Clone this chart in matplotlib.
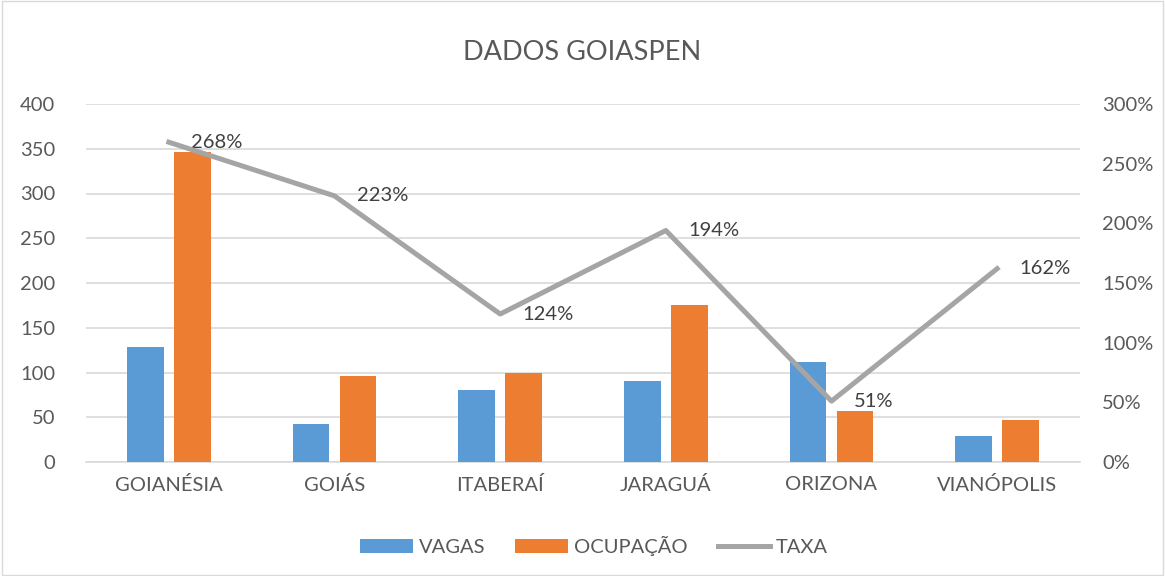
import matplotlib.pyplot as plt
import numpy as np
from matplotlib.ticker import FuncFormatter

# Data
cidades = ['GOIANÉSIA', 'GOIÁS', 'ITABERAÍ', 'JARAGUÁ', 'ORIZONA', 'VIANÓPOLIS']
vagas = [129, 43, 80, 90, 112, 29]
ocupacao = [346, 96, 99, 175, 57, 47]
taxa = [268, 223, 124, 194, 51, 162]  # %

plt.rcParams['font.family'] = ['Lato', 'DejaVu Sans']
txt = '#595959'

fig = plt.figure(figsize=(11.65, 5.76), dpi=100)
ax = fig.add_axes([86 / 1165, 1 - 462 / 576, 994 / 1165, 358 / 576])

x = np.arange(len(cidades))
w = 0.223
ax.bar(x - 0.142, vagas, w, color='#5B9BD5', label='VAGAS', zorder=3)
ax.bar(x + 0.142, ocupacao, w, color='#ED7D31', label='OCUPAÇÃO', zorder=3)

ax.set_xlim(-0.5, len(cidades) - 0.5)
ax.set_ylim(0, 400)
ax.set_yticks(range(0, 401, 50))
ax.set_xticks(x)
ax.set_xticklabels(cidades)
ax.grid(axis='y', color='#d9d9d9', linewidth=1.2, zorder=0)
for s in ['top', 'right', 'left']:
    ax.spines[s].set_visible(False)
ax.spines['bottom'].set_color('#d9d9d9')
ax.spines['bottom'].set_linewidth(1.2)
ax.tick_params(length=0, labelsize=14.5, colors=txt, pad=10)
ax.tick_params(axis='y', pad=22)

ax2 = ax.twinx()
ax2.plot(x, taxa, color='#A5A5A5', linewidth=3.6, label='TAXA', zorder=4)
ax2.set_ylim(0, 300)
ax2.set_yticks(range(0, 301, 50))
ax2.yaxis.set_major_formatter(FuncFormatter(lambda v, p: f'{int(v)}%'))
ax2.tick_params(length=0, labelsize=14.5, colors=txt, pad=16)
for s in ax2.spines.values():
    s.set_visible(False)
for xi, t in zip(x, taxa):
    ax2.annotate(f'{t}%', (xi, t), xytext=(16, 0), textcoords='offset points',
                 va='center', ha='left', fontsize=14.5, color='#404040')

fig.text(0.5, 1 - 52 / 576, 'DADOS GOIASPEN', ha='center', va='center',
         fontsize=19.5, color=txt)

h1, l1 = ax.get_legend_handles_labels()
h2, l2 = ax2.get_legend_handles_labels()
fig.legend(h1 + h2, l1 + l2, loc='center', bbox_to_anchor=(0.51, 1 - 546 / 576),
           ncol=3, frameon=False, fontsize=14.5, labelcolor=txt,
           handlelength=2.6, handleheight=0.7, columnspacing=1.5, handletextpad=0.3)

fig.patches.append(plt.Rectangle((0.002, 0.002), 0.996, 0.996, transform=fig.transFigure,
                                 fill=False, edgecolor='#d9d9d9', linewidth=1))

fig.savefig('out.png', dpi=100)
